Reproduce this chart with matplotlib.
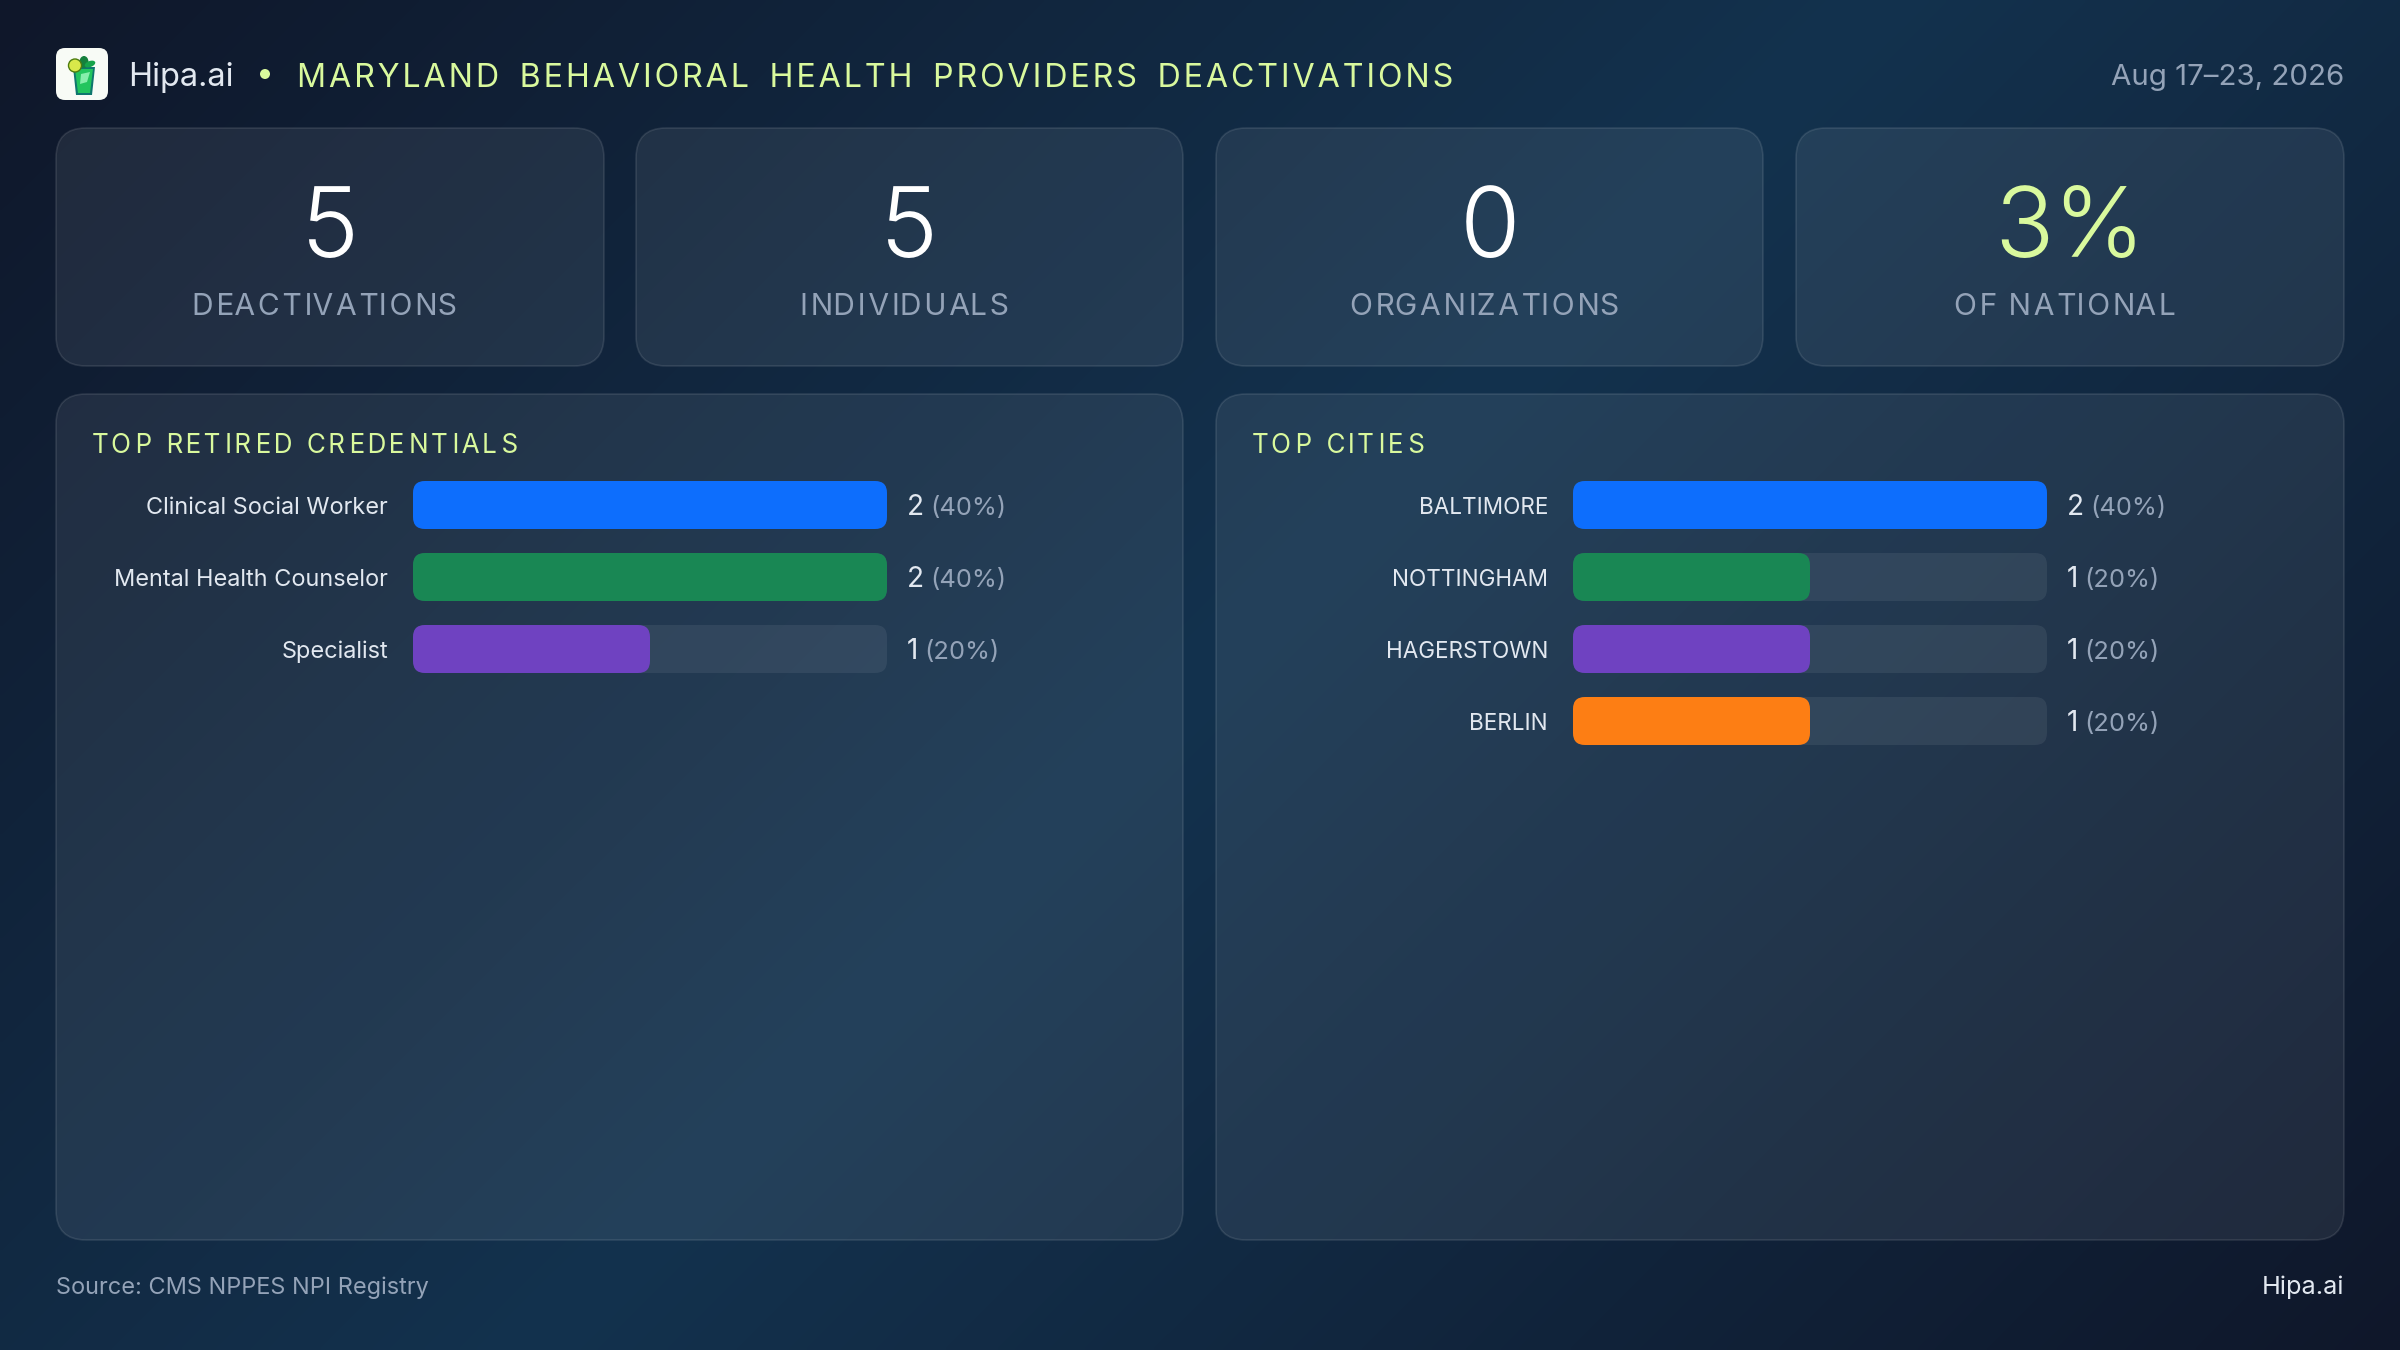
import numpy as np
import matplotlib
matplotlib.use("Agg")
from matplotlib import pyplot as plt
from matplotlib.patches import FancyBboxPatch, Circle, Polygon, Ellipse

plt.rcParams["font.family"] = ["Inter", "DejaVu Sans"]

W, H = 2400, 1350

# chart values
header_brand = "Hipa.ai"
header_title = "MARYLAND BEHAVIORAL HEALTH PROVIDERS DEACTIVATIONS"
header_date = "Aug 17–23, 2026"
kpi_values = ["5", "5", "0", "3%"]
kpi_labels = ["DEACTIVATIONS", "INDIVIDUALS", "ORGANIZATIONS", "OF NATIONAL"]
cred_labels = ["Clinical Social Worker", "Mental Health Counselor", "Specialist"]
cred_counts = [2, 2, 1]
cred_pcts = [40, 40, 20]
city_labels = ["BALTIMORE", "NOTTINGHAM", "HAGERSTOWN", "BERLIN"]
city_counts = [2, 1, 1, 1]
city_pcts = [40, 20, 20, 20]
bar_colors = ["#0d6efd", "#198754", "#6f42c1", "#fd7e14"]

LIME = "#d9f99d"
LIGHT = "#e2e8f0"
GRAY = "#94a3b8"


def px(n):
    # font size in points for a size in pixels at dpi 100
    return n * 0.72


def track(s, n=1.0, word_extra=0):
    # letter spacing with hair spaces, matplotlib has no tracking option
    out = s[0]
    for i, ch in enumerate(s[1:]):
        gap = round((i + 1) * n) - round(i * n)
        if ch == " ":
            gap += word_extra
        out += "\u200a" * gap + ch
    return out


fig = plt.figure(figsize=(24, 13.5), dpi=100)
bg = fig.add_axes([0, 0, 1, 1])
bg.set_xlim(0, W)
bg.set_ylim(H, 0)
bg.axis("off")

# diagonal page gradient
yy, xx = np.mgrid[0:H:4, 0:W:4]
t = (xx + yy) / (W + H)
stops = np.array([[15, 23, 42], [19, 50, 78], [15, 23, 42]]) / 255
grad = np.dstack([np.interp(t, [0, 0.5, 1], stops[:, c]) for c in range(3)])
bg.imshow(grad, extent=(0, W, H, 0), aspect="auto", zorder=0, interpolation="bilinear")
bg.set_xlim(0, W)
bg.set_ylim(H, 0)


def panel(x0, y0, x1, y1, r=30):
    bg.add_patch(FancyBboxPatch((x0, y0), x1 - x0, y1 - y0,
                                boxstyle=f"round,pad=0,rounding_size={r}",
                                fc=(1, 1, 1, 0.075), ec=(1, 1, 1, 0.1), lw=1.2, zorder=1))


# logo
bg.add_patch(FancyBboxPatch((56, 48), 52, 52, boxstyle="round,pad=0,rounding_size=9",
                            fc="#f8fbf6", ec="none", zorder=2))
bg.add_patch(Polygon([(73, 67), (95, 67), (92, 95), (76, 95)], fc="#0f766e", ec="none", zorder=3))
bg.add_patch(Polygon([(75, 69), (93, 69), (90, 93), (78, 93)], fc="#22c55e", ec="none", zorder=4))
bg.add_patch(Polygon([(81, 74), (90, 72), (87, 82), (80, 84)], fc="#86efac", ec="none", zorder=5))
bg.add_patch(Ellipse((84, 62), 9, 12, fc="#15803d", ec="none", zorder=3))
bg.add_patch(Ellipse((90, 64), 11, 6, angle=-20, fc="#16a34a", ec="none", zorder=3))
bg.add_patch(Circle((75, 65.5), 6.5, fc="#d9e84a", ec="#4d7c0f", lw=1, zorder=6))

bg.text(128, 86, header_brand, color=LIGHT, fontsize=px(32.5), va="baseline", zorder=5)
bg.add_patch(Circle((265, 74), 5, fc=LIME, ec="none", zorder=5))
bg.text(297, 87, track(header_title, 1, word_extra=2), color=LIME, fontsize=px(32.2),
        va="baseline", zorder=5)
bg.text(2344, 85, header_date, color=GRAY, fontsize=px(29.5), ha="right", va="baseline", zorder=5)

# KPI cards
card_x = [(56, 604), (636, 1183), (1216, 1763), (1796, 2344)]
for i, (x0, x1) in enumerate(card_x):
    panel(x0, 128, x1, 366)
    cx = (x0 + x1) / 2
    color = LIME if i == 3 else "white"
    bg.text(cx, 257, kpi_values[i], color=color, fontsize=px(98), fontweight=300,
            ha="center", va="baseline", zorder=5)
    bg.text(cx - 5, 315, track(kpi_labels[i], 0.7), color=GRAY, fontsize=px(30),
            ha="center", va="baseline", zorder=5)

# big panels
panel(56, 394, 1183, 1240)
panel(1216, 394, 2344, 1240)
bg.text(92, 453, track("TOP RETIRED CREDENTIALS", 1.4), color=LIME, fontsize=px(26), va="baseline", zorder=5)
bg.text(1252, 453, track("TOP CITIES", 1.4), color=LIME, fontsize=px(26), va="baseline", zorder=5)


def bar_rows(left, labels, counts, pcts, label_px):
    width_px, row_px, bar_px, radius = 474, 72, 48, 12
    n = len(labels)
    top = 481 - (row_px - bar_px) / 2
    ax = fig.add_axes([left / W, 1 - (top + n * row_px) / H, width_px / W, n * row_px / H])
    ax.patch.set_alpha(0)
    ax.axis("off")
    vmax = max(counts)
    ax.set_xlim(0, vmax)
    ax.set_ylim(n - 0.5, -0.5)
    h = bar_px / row_px
    x_unit = width_px / vmax
    style = f"round,pad=0,rounding_size={radius / x_unit}"
    aspect = x_unit / row_px
    renderer = fig.canvas.get_renderer()
    for i in range(n):
        ax.add_patch(FancyBboxPatch((0, i - h / 2), vmax, h, boxstyle=style, mutation_aspect=aspect,
                                    fc=(1, 1, 1, 0.07), ec="none", clip_on=False))
        ax.add_patch(FancyBboxPatch((0, i - h / 2), counts[i], h, boxstyle=style, mutation_aspect=aspect,
                                    fc=bar_colors[i], ec="none", clip_on=False))
        ax.annotate(labels[i], xy=(0, i), xytext=(-25, -9), textcoords="offset pixels",
                    ha="right", va="baseline", color=LIGHT, fontsize=px(label_px), annotation_clip=False)
        val = ax.annotate(str(counts[i]), xy=(vmax, i), xytext=(20, -10), textcoords="offset pixels",
                          ha="left", va="baseline", color=LIGHT, fontsize=px(28), annotation_clip=False)
        off = val.get_window_extent(renderer).width + 6
        ax.annotate(f"({pcts[i]}%)", xy=(vmax, i), xytext=(20 + off, -10), textcoords="offset pixels",
                    ha="left", va="baseline", color=GRAY, fontsize=px(25.5), annotation_clip=False)


bar_rows(413, cred_labels, cred_counts, cred_pcts, 23.5)
bar_rows(1573, city_labels, city_counts, city_pcts, 22.5)

# footer
bg.text(56, 1294, "Source: CMS NPPES NPI Registry", color=GRAY, fontsize=px(23.5), va="baseline", zorder=5)
bg.text(2344, 1294, header_brand, color=LIGHT, fontsize=px(25.3), ha="right", va="baseline", zorder=5)

fig.savefig("out.png", dpi=100)
